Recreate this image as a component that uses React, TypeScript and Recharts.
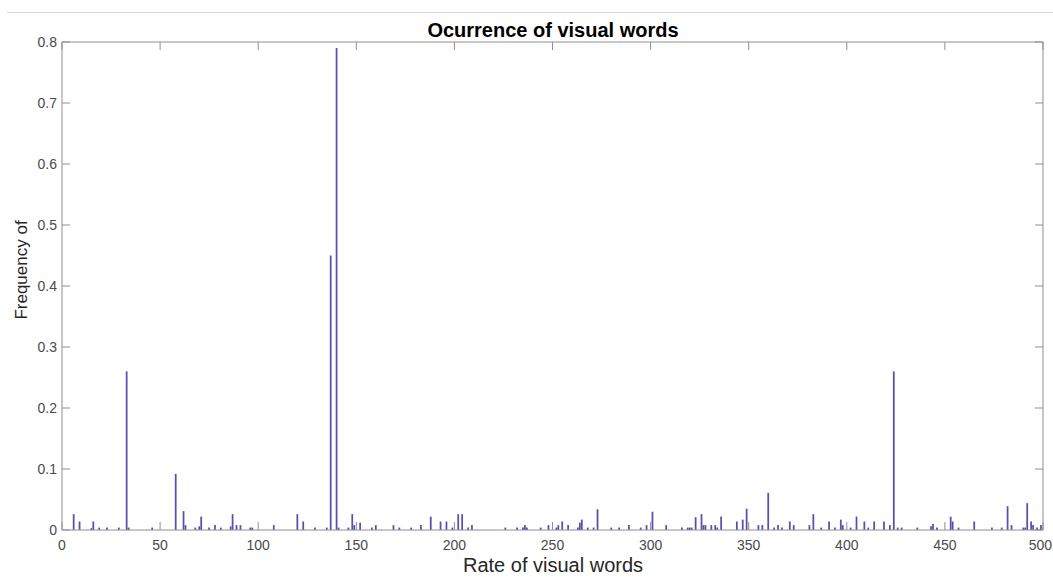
import React from 'react';
import { BarChart, Bar, XAxis, YAxis } from 'recharts';

const wordRate: number[] = [
  6, 9, 15, 16, 19, 23, 29, 33, 34, 46, 58, 62, 63, 68, 70, 71, 75, 78, 81, 86, 87, 89, 91, 96, 97,
  108, 120, 123, 129, 135, 137, 140, 141, 146, 148, 149, 152, 158, 160, 169, 172, 178, 183, 188, 193, 196, 199,
  202, 204, 207, 209, 226, 232, 235, 236, 237, 244, 248, 252, 253, 255, 258, 263, 264, 265, 268, 271, 273,
  280, 284, 289, 295, 298, 301, 308, 316, 319, 320, 321, 323, 326, 327, 328, 331, 333, 334, 336, 344, 347, 349,
  355, 357, 360, 363, 365, 367, 371, 373, 381, 383, 387, 391, 394, 397, 398, 402, 405, 409, 411, 414, 419,
  422, 424, 426, 428, 436, 443, 444, 446, 453, 454, 457, 465, 474, 479, 482, 484, 490, 491, 492, 494, 495, 497, 499,
];

const wordFrequency: number[] = [
  0.026, 0.014, 0.003, 0.014, 0.004, 0.004, 0.004, 0.26, 0.004, 0.004, 0.092, 0.031, 0.008, 0.004, 0.006, 0.022, 0.004, 0.008, 0.004, 0.006, 0.026, 0.008, 0.008, 0.004, 0.004,
  0.008, 0.026, 0.014, 0.004, 0.004, 0.45, 0.79, 0.004, 0.004, 0.026, 0.008, 0.012, 0.004, 0.008, 0.008, 0.004, 0.004, 0.008, 0.022, 0.014, 0.014, 0.004,
  0.026, 0.026, 0.004, 0.008, 0.004, 0.004, 0.004, 0.008, 0.004, 0.004, 0.008, 0.004, 0.008, 0.014, 0.008, 0.004, 0.012, 0.017, 0.004, 0.004, 0.034,
  0.004, 0.004, 0.008, 0.004, 0.008, 0.03, 0.008, 0.004, 0.004, 0.004, 0.004, 0.021, 0.026, 0.008, 0.008, 0.008, 0.008, 0.004, 0.022, 0.014, 0.017, 0.035,
  0.008, 0.008, 0.061, 0.004, 0.008, 0.004, 0.014, 0.008, 0.008, 0.026, 0.004, 0.014, 0.004, 0.017, 0.008, 0.004, 0.022, 0.014, 0.004, 0.014, 0.014,
  0.008, 0.26, 0.004, 0.004, 0.004, 0.006, 0.01, 0.004, 0.022, 0.014, 0.004, 0.014, 0.004, 0.004, 0.039, 0.008, 0.004, 0.004, 0.044, 0.014, 0.008, 0.004, 0.008,
];

const xTicks: number[] = [0, 50, 100, 150, 200, 250, 300, 350, 400, 450, 500];
const yTicks: number[] = [0, 0.1, 0.2, 0.3, 0.4, 0.5, 0.6, 0.7, 0.8];
const yTickLabels: string[] = ['0', '0.1', '0.2', '0.3', '0.4', '0.5', '0.6', '0.7', '0.8'];

const title = 'Ocurrence of visual words';
const xLabel = 'Rate of visual words';
const yLabel = 'Frequency of';

const data = wordRate.map((x, i) => ({ x, y: wordFrequency[i] }));

const FONT = '"Liberation Sans", Arial, Helvetica, sans-serif';
const AXIS = '#8f8f8f';
const TICKTXT = '#4a4a4a';
const BAR = '#5850ae';
const TL = 8;
const CHART_W = 1053;

const BottomTick = (p: any) => {
  const halfW = String(p.payload.value).length * 0.556 * 14 / 2;
  const overflow = p.x + halfW > CHART_W - 1;
  return (
    <g>
      <line x1={p.x} y1={p.y} x2={p.x} y2={p.y - TL} stroke={AXIS} strokeWidth={1} />
      <text
        x={overflow ? CHART_W - 1 : p.x}
        y={p.y + 20}
        textAnchor={overflow ? 'end' : 'middle'}
        fontSize={14}
        fontFamily={FONT}
        fill={TICKTXT}
      >
        {p.payload.value}
      </text>
    </g>
  );
};
const TopTick = (p: any) => (
  <line x1={p.x} y1={p.y} x2={p.x} y2={p.y + TL} stroke={AXIS} strokeWidth={1} />
);
const LeftTick = (p: any) => {
  const idx = yTicks.indexOf(p.payload.value);
  const label = idx >= 0 ? yTickLabels[idx] : String(p.payload.value);
  return (
    <g>
      <line x1={p.x} y1={p.y} x2={p.x + TL} y2={p.y} stroke={AXIS} strokeWidth={1} />
      <text x={p.x - 5} y={p.y + 5} textAnchor="end" fontSize={14} fontFamily={FONT} fill={TICKTXT}>
        {label}
      </text>
    </g>
  );
};
const RightTick = (p: any) => (
  <line x1={p.x} y1={p.y} x2={p.x - TL} y2={p.y} stroke={AXIS} strokeWidth={1} />
);

export default function App() {
  return (
    <div style={{ position: 'absolute', left: 0, top: 0, width: 1053, height: 577, background: '#fff' }}>
      <div style={{ position: 'absolute', left: 7, right: 0, top: 12, height: 1, background: '#d9d9d9' }} />
      <div style={{ position: 'absolute', left: 0, top: 0 }}>
        <BarChart
          width={CHART_W}
          height={577}
          data={data}
          margin={{ top: 41, right: 9, bottom: 46, left: 61 }}
          barSize={2}
        >
          <XAxis
            xAxisId="b"
            type="number"
            dataKey="x"
            domain={[0, 500]}
            ticks={xTicks}
            interval={0}
            height={1}
            tickSize={0}
            tickMargin={0}
            axisLine={{ stroke: AXIS }}
            tickLine={false}
            tick={<BottomTick />}
            allowDataOverflow
          />
          <XAxis
            xAxisId="t"
            orientation="top"
            type="number"
            dataKey="x"
            domain={[0, 500]}
            ticks={xTicks}
            interval={0}
            height={1}
            tickSize={0}
            tickMargin={0}
            axisLine={{ stroke: AXIS }}
            tickLine={false}
            tick={<TopTick />}
            allowDataOverflow
          />
          <YAxis
            yAxisId="l"
            type="number"
            domain={[0, 0.8]}
            ticks={yTicks}
            interval={0}
            width={1}
            tickSize={0}
            tickMargin={0}
            axisLine={{ stroke: AXIS }}
            tickLine={false}
            tick={<LeftTick />}
            allowDataOverflow
          />
          <YAxis
            yAxisId="r"
            orientation="right"
            type="number"
            domain={[0, 0.8]}
            ticks={yTicks}
            interval={0}
            width={1}
            tickSize={0}
            tickMargin={0}
            axisLine={{ stroke: AXIS }}
            tickLine={false}
            tick={<RightTick />}
            allowDataOverflow
          />
          <Bar dataKey="y" xAxisId="b" yAxisId="l" fill={BAR} isAnimationActive={false} />
        </BarChart>
      </div>
      <svg width={1053} height={577} style={{ position: 'absolute', left: 0, top: 0, pointerEvents: 'none' }}>
        <text x={553} y={37} textAnchor="middle" fontSize={20} fontWeight="bold" fontFamily={FONT} fill="#000">
          {title}
        </text>
        <text x={553} y={572} textAnchor="middle" fontSize={20} fontFamily={FONT} fill="#262626">
          {xLabel}
        </text>
        <text
          x={27}
          y={270}
          textAnchor="middle"
          fontSize={17}
          fontFamily={FONT}
          fill="#262626"
          transform="rotate(-90, 27, 270)"
        >
          {yLabel}
        </text>
      </svg>
    </div>
  );
}
